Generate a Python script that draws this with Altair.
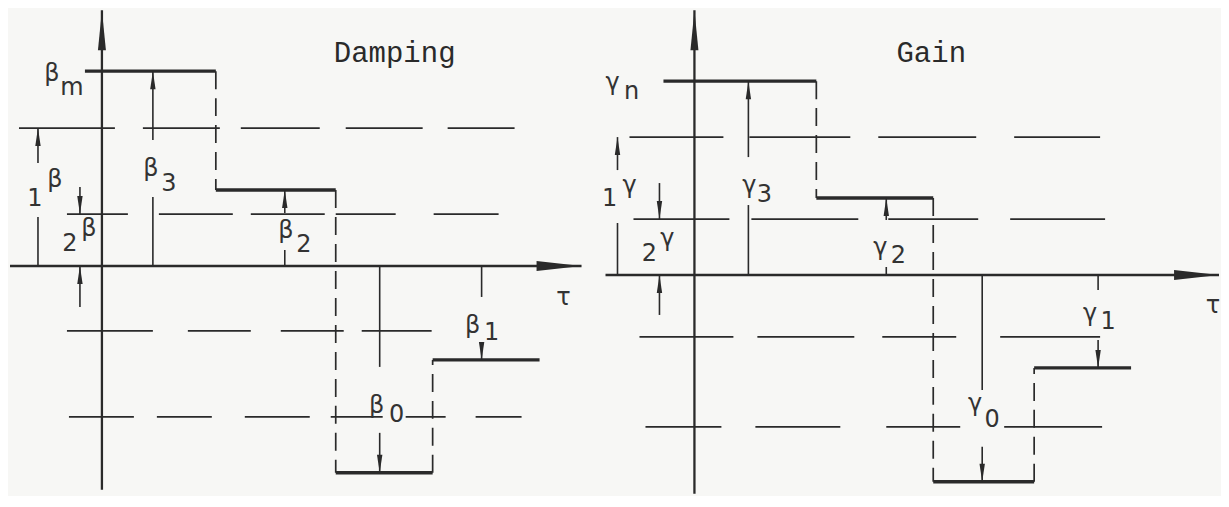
import altair as alt
import pandas as pd

INK = "#2a2a2a"
BG = "#f7f7f5"
FONT = "DejaVu Sans"
TITLE_FONT = "Liberation Mono"

# ---------------- Damping panel (left) ----------------
A_step_x = [-0.17, 1.14, 2.34, 3.31, 4.38]
A_step_y = [1.95, 0.76, -2.07, -0.94]
A_ref_y = [1.38, 0.52, -0.65, -1.51]
A_ref_seg = [
    [(-0.83, 0.13), (0.41, 1.18), (1.39, 2.18), (2.44, 3.21), (3.46, 4.13)],
    [(-0.35, 0.26), (0.57, 1.31), (1.49, 2.23), (2.34, 2.94), (3.32, 3.97)],
    [(-0.35, 0.51), (0.86, 1.49), (1.79, 2.42), (2.60, 3.30)],
    [(-0.33, 0.32), (0.55, 1.10), (1.43, 2.08), (2.29, 2.81), (3.04, 3.44), (3.74, 4.20)],
]
A_tau_axis = [-0.92, 4.80]
A_val_axis = [-2.24, 2.56]
A_dim_x = [-0.64, -0.64, -0.22, -0.22, 0.51, 0.51, 1.83, 1.83, 2.78, 2.78, 3.80, 3.80]
A_dim_from = [1.03, 0.49, 0.79, -0.41, 0.0, 1.26, 0.0, 0.53, 0.0, -1.67, 0.0, -0.81]
A_dim_to = [1.38, 0.0, 0.52, 0.0, 0.69, 1.95, 0.16, 0.76, -1.01, -2.07, -0.31, -0.94]
A_dim_head = [True, False, True, True, False, True, False, True, False, True, False, True]
A_labels = ["β", "m", "1", "β", "2", "β", "β", "3", "β", "2", "β", "1", "β", "0", "τ"]
A_label_x = [-0.50, -0.30, -0.67, -0.47, -0.32, -0.13, 0.49, 0.67, 1.84, 2.02, 3.71, 3.90, 2.75, 2.95, 4.62]
A_label_y = [1.92, 1.78, 0.67, 0.86, 0.22, 0.37, 0.97, 0.82, 0.35, 0.21, -0.60, -0.67, -1.40, -1.49, -0.32]
A_title = "Damping"
A_title_xy = (2.93, 2.13)

# ---------------- Gain panel (right) ----------------
B_step_x = [-0.31, 1.22, 2.39, 3.40, 4.37]
B_step_y = [1.94, 0.77, -2.07, -0.93]
B_ref_y = [1.38, 0.56, -0.62, -1.52]
B_ref_seg = [
    [(-0.65, 0.29), (0.55, 1.56), (1.84, 2.82), (3.20, 4.06)],
    [(-0.61, 0.35), (0.57, 1.64), (1.94, 2.84), (3.16, 4.11)],
    [(-0.55, 0.39), (0.63, 1.60), (1.88, 2.62), (3.06, 4.06)],
    [(-0.49, 0.27), (0.61, 1.46), (1.92, 2.66), (3.10, 4.08)],
]
B_tau_axis = [-0.89, 5.25]
B_val_axis = [-2.19, 2.65]
B_dim_x = [-0.77, -0.77, -0.35, -0.35, 0.54, 0.54, 1.92, 1.92, 2.88, 2.88, 4.04, 4.04]
B_dim_from = [1.05, 0.52, 0.92, -0.40, 0.0, 1.18, 0.0, 0.55, 0.0, -1.72, 0.0, -0.65]
B_dim_to = [1.38, 0.0, 0.56, 0.0, 0.70, 1.94, 0.08, 0.77, -1.15, -2.07, -0.15, -0.93]
B_dim_head = [True, False, True, True, False, True, False, True, False, True, False, True]
B_labels = ["γ", "n", "1", "γ", "2", "γ", "γ", "3", "γ", "2", "γ", "1", "γ", "0", "τ"]
B_label_x = [-0.82, -0.63, -0.85, -0.65, -0.45, -0.27, 0.55, 0.70, 1.86, 2.04, 3.96, 4.14, 2.81, 2.98, 5.19]
B_label_y = [1.92, 1.83, 0.76, 0.89, 0.21, 0.36, 0.89, 0.80, 0.27, 0.19, -0.39, -0.47, -1.29, -1.45, -0.31]
B_title = "Gain"
B_title_xy = (2.37, 2.22)

UP_HEAD = "M0,0 L0.3,2 L-0.3,2 Z"
DOWN_HEAD = "M0,0 L0.3,-2 L-0.3,-2 Z"
AXIS_UP = "M0,0 L0.2,2 L-0.2,2 Z"
AXIS_RIGHT = "M0,0 L-2,-0.22 L-2,0.22 Z"


def panel(step_x, step_y, ref_y, ref_seg, tau_axis, val_axis,
          dim_x, dim_from, dim_to, dim_head, labels, lx, ly, title, title_xy,
          width, height, xdom, ydom):
    xs = alt.Scale(domain=xdom, nice=False, zero=False)
    ys = alt.Scale(domain=ydom, nice=False, zero=False)

    def X(f="x"):
        return alt.X(f"{f}:Q", scale=xs, axis=None)

    def Y(f="y"):
        return alt.Y(f"{f}:Q", scale=ys, axis=None)

    ref = pd.DataFrame([
        {"x": a, "x2": b, "y": yv}
        for yv, segs in zip(ref_y, ref_seg) for a, b in segs
    ])
    steps = pd.DataFrame([
        {"x": step_x[i], "x2": step_x[i + 1], "y": step_y[i]} for i in range(len(step_y))
    ])
    risers = pd.DataFrame([
        {"x": step_x[i], "y": step_y[i - 1], "y2": step_y[i]} for i in range(1, len(step_y))
    ])
    axes = pd.DataFrame([
        {"x": tau_axis[0], "x2": tau_axis[1], "y": 0.0, "y2": 0.0},
        {"x": 0.0, "x2": 0.0, "y": val_axis[0], "y2": val_axis[1]},
    ])
    dims = pd.DataFrame({"x": dim_x, "y": dim_from, "y2": dim_to})
    heads = pd.DataFrame([
        {"x": x, "y": t, "dir": "up" if t > f else "down"}
        for x, f, t, h in zip(dim_x, dim_from, dim_to, dim_head) if h
    ])
    up_heads = heads[heads["dir"] == "up"]
    down_heads = heads[heads["dir"] == "down"]
    vtip = pd.DataFrame({"x": [0.0], "y": [val_axis[1]]})
    htip = pd.DataFrame({"x": [tau_axis[1]], "y": [0.0]})
    lab = pd.DataFrame({"t": labels, "x": lx, "y": ly})
    ttl = pd.DataFrame({"t": [title], "x": [title_xy[0]], "y": [title_xy[1]]})

    layers = [
        alt.Chart(ref).mark_rule(color=INK, strokeWidth=1.8).encode(x=X(), x2="x2", y=Y()),
        alt.Chart(risers).mark_rule(color=INK, strokeWidth=1.7, strokeDash=[18, 9]).encode(
            x=X(), y=Y(), y2="y2"),
        alt.Chart(steps).mark_rule(color=INK, strokeWidth=3.4).encode(x=X(), x2="x2", y=Y()),
        alt.Chart(axes).mark_rule(color=INK, strokeWidth=2.3).encode(
            x=X(), x2="x2", y=Y(), y2="y2"),
        alt.Chart(dims).mark_rule(color=INK, strokeWidth=1.6).encode(x=X(), y=Y(), y2="y2"),
        alt.Chart(up_heads).mark_point(shape=UP_HEAD, filled=True, size=324, opacity=1,
                                       color=INK, strokeWidth=0).encode(x=X(), y=Y()),
        alt.Chart(down_heads).mark_point(shape=DOWN_HEAD, filled=True, size=324, opacity=1,
                                         color=INK, strokeWidth=0).encode(x=X(), y=Y()),
        alt.Chart(vtip).mark_point(shape=AXIS_UP, filled=True, size=1600, opacity=1,
                                   color=INK, strokeWidth=0).encode(x=X(), y=Y()),
        alt.Chart(htip).mark_point(shape=AXIS_RIGHT, filled=True, size=2025, opacity=1,
                                   color=INK, strokeWidth=0).encode(x=X(), y=Y()),
        alt.Chart(lab).mark_text(font=FONT, fontSize=24, color="#333333").encode(
            x=X(), y=Y(), text="t:N"),
        alt.Chart(ttl).mark_text(font=TITLE_FONT, fontSize=29, color=INK).encode(
            x=X(), y=Y(), text="t:N"),
    ]
    return alt.layer(*layers).properties(width=width, height=height)


H = 486
left = panel(A_step_x, A_step_y, A_ref_y, A_ref_seg, A_tau_axis, A_val_axis,
             A_dim_x, A_dim_from, A_dim_to, A_dim_head, A_labels, A_label_x, A_label_y,
             A_title, A_title_xy, 600, H, [-0.94, 5.06], [-2.28, 2.58])
right = panel(B_step_x, B_step_y, B_ref_y, B_ref_seg, B_tau_axis, B_val_axis,
              B_dim_x, B_dim_from, B_dim_to, B_dim_head, B_labels, B_label_x, B_label_y,
              B_title, B_title_xy, 613, H, [-0.87, 5.26], [-2.19, 2.67])

chart = alt.hconcat(left, right, spacing=0, bounds="flush").properties(
    padding=0, background=BG
).configure_view(stroke=None)

chart.save("out.html", embed_options={"renderer": "svg", "actions": False})
